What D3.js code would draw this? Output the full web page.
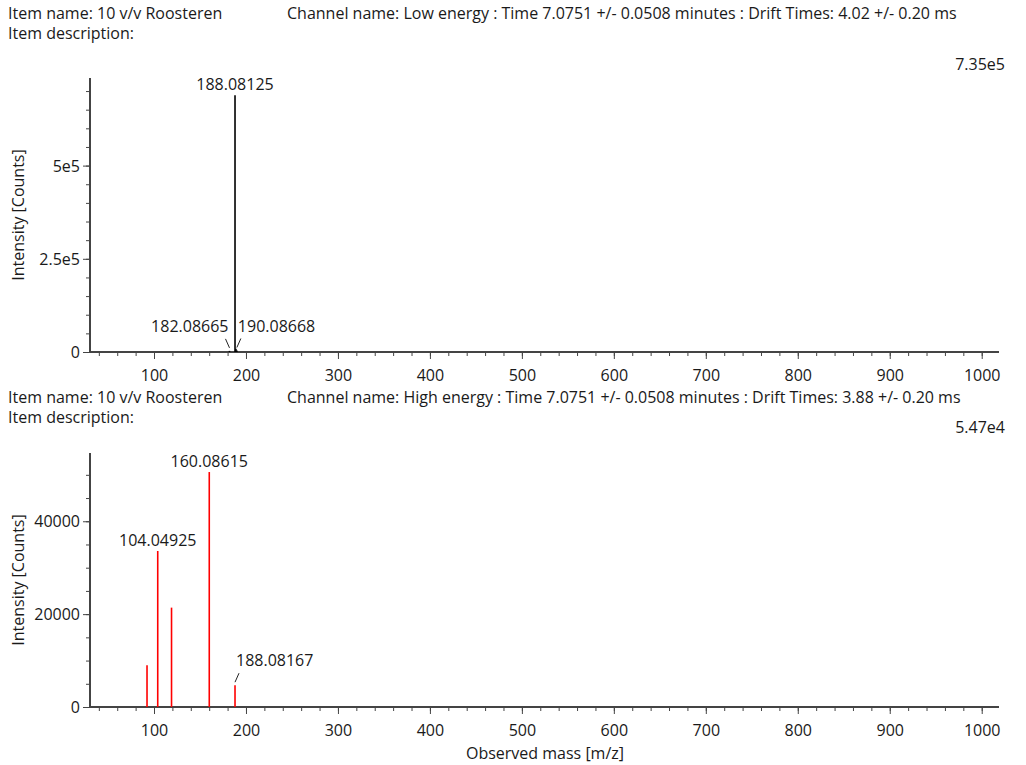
<!DOCTYPE html>
<html>
<head>
<meta charset="utf-8">
<script src="https://cdn.jsdelivr.net/npm/d3@7"></script>
<style>
  body { margin: 0; background: #fff; }
  svg text { font-family: "Open Sans", "Noto Sans", sans-serif; fill: #1a1a1a; font-size: 16px; }
  .axis path, .axis line { stroke: #444; }
  .axis text { font-size: 16px; }
</style>
</head>
<body>
<script>
const width = 1026;
const height = 765;

// low energy spectrum
const lowMz = [182.08665, 188.08125, 189.0846, 190.08668];
const lowInt = [3000, 688600, 9000, 4000];
const lowLabels = ['182.08665', '188.08125', '', '190.08668'];
const lowMax = 7.35e5;

// high energy spectrum
const highMz = [92.4, 104.04925, 119.05, 160.08615, 188.08167];
const highInt = [9000, 33600, 21400, 50600, 4700];
const highLabels = ['', '104.04925', '', '160.08615', '188.08167'];
const highMax = 5.47e4;

const xTicks = [100, 200, 300, 400, 500, 600, 700, 800, 900, 1000];
const lowYTicks = [0, 2.5e5, 5e5];
const lowYTickText = ['0', '2.5e5', '5e5'];
const highYTicks = [0, 20000, 40000];

const headerName = 'Item name: 10 v/v Roosteren';
const headerDesc = 'Item description:';
const lowChannel = 'Channel name: Low energy : Time 7.0751 +/- 0.0508 minutes : Drift Times: 4.02 +/- 0.20 ms';
const highChannel = 'Channel name: High energy : Time 7.0751 +/- 0.0508 minutes : Drift Times: 3.88 +/- 0.20 ms';

const svg = d3.select('body').append('svg')
  .attr('width', width)
  .attr('height', height);

// leader styles: how small peak labels hang off their peak
const leaderSide = {'182.08665': 'left', '190.08668': 'right', '188.08167': 'right'};

function panel(opt){
  const x = d3.scaleLinear().domain([30.4, 1018.8]).range([90, 999]);
  const y = d3.scaleLinear().domain([0, opt.max]).range([opt.bottom, opt.top]);

  svg.append('text').text(headerName).attr('x', 8).attr('y', opt.headY);
  svg.append('text').text(opt.channel).attr('x', 287).attr('y', opt.headY);
  svg.append('text').text(headerDesc).attr('x', 8).attr('y', opt.headY + 20);
  svg.append('text').text(d3.format('.2e')(opt.max).replace('+', ''))
    .attr('x', 1005).attr('y', opt.maxY).attr('text-anchor', 'end');

  // minor ticks
  const gx = svg.append('g').attr('class', 'axis').attr('transform', `translate(0,${opt.bottom})`);
  gx.call(d3.axisBottom(x).tickValues(d3.range(40, 1020, 20)).tickSize(4).tickFormat(''));
  gx.append('g').call(d3.axisBottom(x).tickValues(xTicks).tickSize(7).tickFormat(d3.format('d')));
  gx.selectAll('path').remove();
  gx.selectAll('text').attr('dy', '1.2em');

  const gy = svg.append('g').attr('class', 'axis').attr('transform', 'translate(90,0)');
  gy.call(d3.axisLeft(y).tickValues(d3.range(0, opt.max, opt.minor)).tickSize(4).tickFormat(''));
  gy.append('g').call(d3.axisLeft(y).tickValues(opt.yTicks).tickSize(7).tickFormat((d, i) => opt.yText[i]));
  gy.selectAll('path').remove();
  gy.selectAll('text').attr('dy', '0.35em');

  svg.append('line').attr('x1', x.range()[0]).attr('x2', x.range()[1])
    .attr('y1', opt.bottom).attr('y2', opt.bottom).attr('stroke', '#444').attr('stroke-width', 2);
  svg.append('line').attr('x1', 90).attr('x2', 90)
    .attr('y1', opt.top).attr('y2', opt.bottom + 1).attr('stroke', '#444').attr('stroke-width', 2);

  svg.append('text').text('Intensity [Counts]')
    .attr('transform', `translate(24,${(opt.top + opt.bottom) / 2}) rotate(-90)`)
    .attr('text-anchor', 'middle');

  const peaks = opt.mz.map((m, i) => ({mz: m, v: opt.int[i], label: opt.labels[i]}));
  svg.selectAll(null).data(peaks).enter().append('line')
    .attr('x1', d => x(d.mz)).attr('x2', d => x(d.mz))
    .attr('y1', opt.bottom).attr('y2', d => y(d.v))
    .attr('stroke', opt.color).attr('stroke-width', 1.6);

  peaks.filter(d => d.label).forEach(d => {
    const px = x(d.mz), py = y(d.v);
    const side = leaderSide[d.label];
    if (!side){
      svg.append('text').text(d.label).attr('x', px).attr('y', py - 5)
        .attr('text-anchor', 'middle');
    } else {
      const s = side === 'left' ? -1 : 1;
      svg.append('line')
        .attr('x1', px).attr('y1', py - 3)
        .attr('x2', px + s * 4).attr('y2', py - 12)
        .attr('stroke', '#222').attr('stroke-width', 1);
      svg.append('text').text(d.label)
        .attr('x', px + (side === 'left' ? -1 : 1)).attr('y', py - 19)
        .attr('text-anchor', side === 'left' ? 'end' : 'start');
    }
  });
}

panel({top: 78, bottom: 352, headY: 19, maxY: 70, max: lowMax, minor: 5e4, yTicks: lowYTicks, yText: lowYTickText,
  channel: lowChannel, mz: lowMz, int: lowInt, labels: lowLabels, color: '#000'});
panel({top: 453, bottom: 707, headY: 403, maxY: 433, max: highMax, minor: 5000, yTicks: highYTicks, yText: highYTicks.map(String),
  channel: highChannel, mz: highMz, int: highInt, labels: highLabels, color: '#f00'});

svg.append('text').text('Observed mass [m/z]')
  .attr('x', 545).attr('y', 759).attr('text-anchor', 'middle');
</script>
</body>
</html>
